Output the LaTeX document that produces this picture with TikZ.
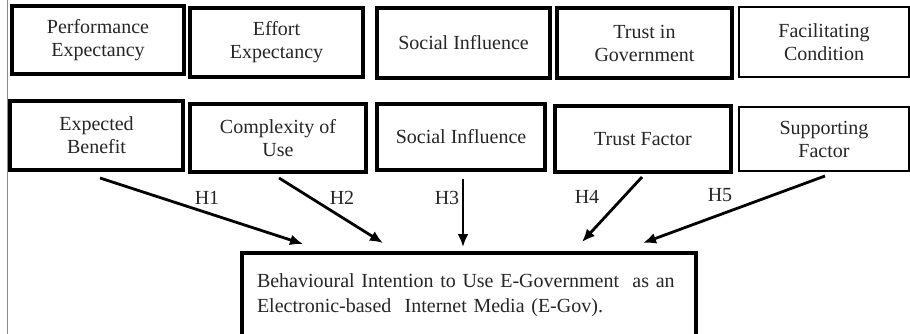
\documentclass[tikz,border=0pt]{standalone}
\usepackage{fontspec}
\setmainfont{Liberation Serif}
\usetikzlibrary{arrows.meta}
\definecolor{txt}{HTML}{262626}
\tikzset{
 box/.style={draw=black, line width=3.3pt, inner sep=0pt, align=center, font=\fontsize{20}{23}\selectfont, text=txt},
 thinbox/.style={line width=2.6pt},
 arr/.style={line width=2.8pt, -{Latex[length=13pt,width=11pt]}},
 hlab/.style={font=\fontsize{20}{22}\selectfont, text=txt, inner sep=0pt},
}
\begin{document}
\begin{tikzpicture}[x=1pt,y=-1pt]
\useasboundingbox (0,0) rectangle (910,334);
\clip (0,0) rectangle (910,334);
\fill[white] (0,0) rectangle (910,334);
\draw[black!45, line width=1pt] (7.5,0) -- (7.5,334);
% top row
\node[box, minimum width=172pt, minimum height=68pt] (perf) at (98,40) {Performance\\Expectancy};
\node[box, minimum width=173pt, minimum height=69pt] (eff) at (276.5,42.5) {Effort\\Expectancy};
\node[box, minimum width=173pt, minimum height=70pt] (soc1) at (463.5,43) {Social Influence};
\node[box, minimum width=175pt, minimum height=70pt] (tig) at (644.5,43) {Trust in\\Government};
\node[box, thinbox, minimum width=170pt, minimum height=70pt] (fac) at (824,42) {Facilitating\\Condition};
% second row
\node[box, minimum width=173pt, minimum height=69pt] (ben) at (96.5,135.5) {Expected\\Benefit};
\node[box, minimum width=176pt, minimum height=68pt] (cpx) at (278,138) {Complexity of\\Use};
\node[box, minimum width=168pt, minimum height=66pt] (soc2) at (461,137) {Social Influence};
\node[box, minimum width=176pt, minimum height=66pt] (tf) at (643,139) {Trust Factor};
\node[box, thinbox, minimum width=170pt, minimum height=64pt] (sup) at (824,139) {Supporting\\Factor};
% outcome
\node[box, minimum width=454pt, minimum height=85pt, text width=424pt, inner xsep=15pt, inner ysep=0pt, align=left, font=\fontsize{20}{25}\selectfont] (bi) at (469,295.5) {Behavioural Intention to Use E-Government\ \ as an\\Electronic-based\ \ Internet Media (E-Gov).};
% arrow ends
\coordinate (a1s) at (100,178);
\coordinate (a1e) at (303,244);
\coordinate (a2s) at (279,178);
\coordinate (a2e) at (383,243);
\coordinate (a3s) at (463,179);
\coordinate (a3e) at (463,247);
\coordinate (a4s) at (642,177);
\coordinate (a4e) at (582,242);
\coordinate (a5s) at (825,176);
\coordinate (a5e) at (643,243);
\draw[arr] (a1s) -- (a1e);
\draw[arr] (a2s) -- (a2e);
\draw[arr] (a3s) -- (a3e);
\draw[arr] (a4s) -- (a4e);
\draw[arr] (a5s) -- (a5e);
% labels
\node[hlab] (h1) at (207,198) {H1};
\node[hlab] (h2) at (342,198) {H2};
\node[hlab] (h3) at (447,198) {H3};
\node[hlab] (h4) at (587,197) {H4};
\node[hlab] (h5) at (720,195) {H5};
\end{tikzpicture}
\end{document}
